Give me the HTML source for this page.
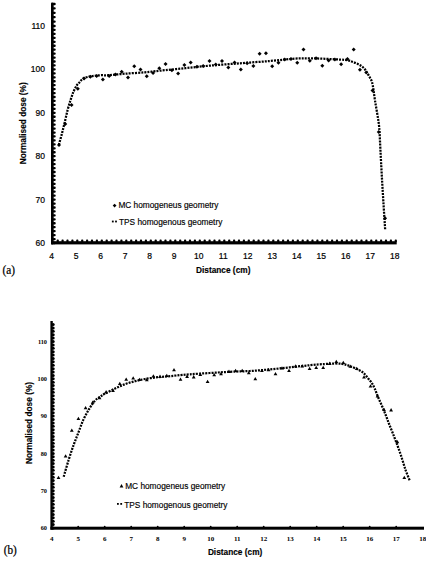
<!DOCTYPE html>
<html><head><meta charset="utf-8"><style>
html,body{margin:0;padding:0;background:#fff;}
svg{display:block;}
.ta{font-family:"Liberation Sans",sans-serif;font-size:8.5px;fill:#000;stroke:#000;stroke-width:0.2px;}
.tb{font-family:"Liberation Sans",sans-serif;font-size:8.3px;font-weight:bold;fill:#000;stroke:#000;stroke-width:0.15px;}
.lg{font-family:"Liberation Sans",sans-serif;font-size:8.3px;fill:#000;stroke:#000;stroke-width:0.15px;}
.sb{font-family:"Liberation Serif",serif;font-size:7px;font-weight:bold;fill:#000;}
.lab{font-family:"Liberation Serif",serif;font-size:12.5px;fill:#000;stroke:#000;stroke-width:0.25px;}
</style></head><body>
<svg width="426" height="562" viewBox="0 0 426 562">
<rect width="426" height="562" fill="#fff"/>
<rect x="51" y="2.6" width="2.7" height="241.8" rx="0.8" fill="#000"/>
<rect x="52.8" y="241.85" width="2.9" height="2.3" rx="1" fill="#000"/>
<rect x="52.8" y="237.90" width="2.9" height="2.3" rx="1" fill="#000"/>
<rect x="52.8" y="233.96" width="2.9" height="2.3" rx="1" fill="#000"/>
<rect x="52.8" y="230.01" width="2.9" height="2.3" rx="1" fill="#000"/>
<rect x="52.8" y="226.07" width="2.9" height="2.3" rx="1" fill="#000"/>
<rect x="52.8" y="222.12" width="2.9" height="2.3" rx="1" fill="#000"/>
<rect x="52.8" y="218.18" width="2.9" height="2.3" rx="1" fill="#000"/>
<rect x="52.8" y="214.23" width="2.9" height="2.3" rx="1" fill="#000"/>
<rect x="52.8" y="210.29" width="2.9" height="2.3" rx="1" fill="#000"/>
<rect x="52.8" y="206.34" width="2.9" height="2.3" rx="1" fill="#000"/>
<rect x="52.8" y="202.40" width="2.9" height="2.3" rx="1" fill="#000"/>
<rect x="52.8" y="198.45" width="2.9" height="2.3" rx="1" fill="#000"/>
<rect x="52.8" y="194.50" width="2.9" height="2.3" rx="1" fill="#000"/>
<rect x="52.8" y="190.56" width="2.9" height="2.3" rx="1" fill="#000"/>
<rect x="52.8" y="186.61" width="2.9" height="2.3" rx="1" fill="#000"/>
<rect x="52.8" y="182.67" width="2.9" height="2.3" rx="1" fill="#000"/>
<rect x="52.8" y="178.72" width="2.9" height="2.3" rx="1" fill="#000"/>
<rect x="52.8" y="174.78" width="2.9" height="2.3" rx="1" fill="#000"/>
<rect x="52.8" y="170.83" width="2.9" height="2.3" rx="1" fill="#000"/>
<rect x="52.8" y="166.89" width="2.9" height="2.3" rx="1" fill="#000"/>
<rect x="52.8" y="162.94" width="2.9" height="2.3" rx="1" fill="#000"/>
<rect x="52.8" y="159.00" width="2.9" height="2.3" rx="1" fill="#000"/>
<rect x="52.8" y="155.05" width="2.9" height="2.3" rx="1" fill="#000"/>
<rect x="52.8" y="151.10" width="2.9" height="2.3" rx="1" fill="#000"/>
<rect x="52.8" y="147.16" width="2.9" height="2.3" rx="1" fill="#000"/>
<rect x="52.8" y="143.21" width="2.9" height="2.3" rx="1" fill="#000"/>
<rect x="52.8" y="139.27" width="2.9" height="2.3" rx="1" fill="#000"/>
<rect x="52.8" y="135.32" width="2.9" height="2.3" rx="1" fill="#000"/>
<rect x="52.8" y="131.38" width="2.9" height="2.3" rx="1" fill="#000"/>
<rect x="52.8" y="127.43" width="2.9" height="2.3" rx="1" fill="#000"/>
<rect x="52.8" y="123.49" width="2.9" height="2.3" rx="1" fill="#000"/>
<rect x="52.8" y="119.54" width="2.9" height="2.3" rx="1" fill="#000"/>
<rect x="52.8" y="115.60" width="2.9" height="2.3" rx="1" fill="#000"/>
<rect x="52.8" y="111.65" width="2.9" height="2.3" rx="1" fill="#000"/>
<rect x="52.8" y="107.70" width="2.9" height="2.3" rx="1" fill="#000"/>
<rect x="52.8" y="103.76" width="2.9" height="2.3" rx="1" fill="#000"/>
<rect x="52.8" y="99.81" width="2.9" height="2.3" rx="1" fill="#000"/>
<rect x="52.8" y="95.87" width="2.9" height="2.3" rx="1" fill="#000"/>
<rect x="52.8" y="91.92" width="2.9" height="2.3" rx="1" fill="#000"/>
<rect x="52.8" y="87.98" width="2.9" height="2.3" rx="1" fill="#000"/>
<rect x="52.8" y="84.03" width="2.9" height="2.3" rx="1" fill="#000"/>
<rect x="52.8" y="80.09" width="2.9" height="2.3" rx="1" fill="#000"/>
<rect x="52.8" y="76.14" width="2.9" height="2.3" rx="1" fill="#000"/>
<rect x="52.8" y="72.20" width="2.9" height="2.3" rx="1" fill="#000"/>
<rect x="52.8" y="68.25" width="2.9" height="2.3" rx="1" fill="#000"/>
<rect x="52.8" y="64.30" width="2.9" height="2.3" rx="1" fill="#000"/>
<rect x="52.8" y="60.36" width="2.9" height="2.3" rx="1" fill="#000"/>
<rect x="52.8" y="56.41" width="2.9" height="2.3" rx="1" fill="#000"/>
<rect x="52.8" y="52.47" width="2.9" height="2.3" rx="1" fill="#000"/>
<rect x="52.8" y="48.52" width="2.9" height="2.3" rx="1" fill="#000"/>
<rect x="52.8" y="44.58" width="2.9" height="2.3" rx="1" fill="#000"/>
<rect x="52.8" y="40.63" width="2.9" height="2.3" rx="1" fill="#000"/>
<rect x="52.8" y="36.69" width="2.9" height="2.3" rx="1" fill="#000"/>
<rect x="52.8" y="32.74" width="2.9" height="2.3" rx="1" fill="#000"/>
<rect x="52.8" y="28.80" width="2.9" height="2.3" rx="1" fill="#000"/>
<rect x="52.8" y="24.85" width="2.9" height="2.3" rx="1" fill="#000"/>
<rect x="52.8" y="20.45" width="2.9" height="2.3" rx="1" fill="#000"/>
<rect x="52.8" y="16.05" width="2.9" height="2.3" rx="1" fill="#000"/>
<rect x="52.8" y="11.65" width="2.9" height="2.3" rx="1" fill="#000"/>
<rect x="52.8" y="7.25" width="2.9" height="2.3" rx="1" fill="#000"/>
<rect x="52.8" y="2.85" width="2.9" height="2.3" rx="1" fill="#000"/>
<rect x="51" y="241.2" width="345.7" height="3.2" fill="#000"/>
<rect x="56.60" y="239.6" width="2.2" height="2.6" rx="0.8" fill="#000"/>
<rect x="61.50" y="239.6" width="2.2" height="2.6" rx="0.8" fill="#000"/>
<rect x="66.40" y="239.6" width="2.2" height="2.6" rx="0.8" fill="#000"/>
<rect x="71.30" y="239.6" width="2.2" height="2.6" rx="0.8" fill="#000"/>
<rect x="76.20" y="239.6" width="2.2" height="2.6" rx="0.8" fill="#000"/>
<rect x="81.10" y="239.6" width="2.2" height="2.6" rx="0.8" fill="#000"/>
<rect x="86.00" y="239.6" width="2.2" height="2.6" rx="0.8" fill="#000"/>
<rect x="90.90" y="239.6" width="2.2" height="2.6" rx="0.8" fill="#000"/>
<rect x="95.80" y="239.6" width="2.2" height="2.6" rx="0.8" fill="#000"/>
<rect x="100.70" y="239.6" width="2.2" height="2.6" rx="0.8" fill="#000"/>
<rect x="105.60" y="239.6" width="2.2" height="2.6" rx="0.8" fill="#000"/>
<rect x="110.50" y="239.6" width="2.2" height="2.6" rx="0.8" fill="#000"/>
<rect x="115.40" y="239.6" width="2.2" height="2.6" rx="0.8" fill="#000"/>
<rect x="120.30" y="239.6" width="2.2" height="2.6" rx="0.8" fill="#000"/>
<rect x="125.20" y="239.6" width="2.2" height="2.6" rx="0.8" fill="#000"/>
<rect x="130.10" y="239.6" width="2.2" height="2.6" rx="0.8" fill="#000"/>
<rect x="135.00" y="239.6" width="2.2" height="2.6" rx="0.8" fill="#000"/>
<rect x="139.90" y="239.6" width="2.2" height="2.6" rx="0.8" fill="#000"/>
<rect x="144.80" y="239.6" width="2.2" height="2.6" rx="0.8" fill="#000"/>
<rect x="149.70" y="239.6" width="2.2" height="2.6" rx="0.8" fill="#000"/>
<rect x="154.60" y="239.6" width="2.2" height="2.6" rx="0.8" fill="#000"/>
<rect x="159.50" y="239.6" width="2.2" height="2.6" rx="0.8" fill="#000"/>
<rect x="164.40" y="239.6" width="2.2" height="2.6" rx="0.8" fill="#000"/>
<rect x="169.30" y="239.6" width="2.2" height="2.6" rx="0.8" fill="#000"/>
<rect x="174.20" y="239.6" width="2.2" height="2.6" rx="0.8" fill="#000"/>
<rect x="179.10" y="239.6" width="2.2" height="2.6" rx="0.8" fill="#000"/>
<rect x="184.00" y="239.6" width="2.2" height="2.6" rx="0.8" fill="#000"/>
<rect x="188.90" y="239.6" width="2.2" height="2.6" rx="0.8" fill="#000"/>
<rect x="193.80" y="239.6" width="2.2" height="2.6" rx="0.8" fill="#000"/>
<rect x="198.70" y="239.6" width="2.2" height="2.6" rx="0.8" fill="#000"/>
<rect x="203.60" y="239.6" width="2.2" height="2.6" rx="0.8" fill="#000"/>
<rect x="208.50" y="239.6" width="2.2" height="2.6" rx="0.8" fill="#000"/>
<rect x="213.40" y="239.6" width="2.2" height="2.6" rx="0.8" fill="#000"/>
<rect x="218.30" y="239.6" width="2.2" height="2.6" rx="0.8" fill="#000"/>
<rect x="223.20" y="239.6" width="2.2" height="2.6" rx="0.8" fill="#000"/>
<rect x="228.10" y="239.6" width="2.2" height="2.6" rx="0.8" fill="#000"/>
<rect x="233.00" y="239.6" width="2.2" height="2.6" rx="0.8" fill="#000"/>
<rect x="237.90" y="239.6" width="2.2" height="2.6" rx="0.8" fill="#000"/>
<rect x="242.80" y="239.6" width="2.2" height="2.6" rx="0.8" fill="#000"/>
<rect x="247.70" y="239.6" width="2.2" height="2.6" rx="0.8" fill="#000"/>
<rect x="252.60" y="239.6" width="2.2" height="2.6" rx="0.8" fill="#000"/>
<rect x="257.50" y="239.6" width="2.2" height="2.6" rx="0.8" fill="#000"/>
<rect x="262.40" y="239.6" width="2.2" height="2.6" rx="0.8" fill="#000"/>
<rect x="267.30" y="239.6" width="2.2" height="2.6" rx="0.8" fill="#000"/>
<rect x="272.20" y="239.6" width="2.2" height="2.6" rx="0.8" fill="#000"/>
<rect x="277.10" y="239.6" width="2.2" height="2.6" rx="0.8" fill="#000"/>
<rect x="282.00" y="239.6" width="2.2" height="2.6" rx="0.8" fill="#000"/>
<rect x="286.90" y="239.6" width="2.2" height="2.6" rx="0.8" fill="#000"/>
<rect x="291.80" y="239.6" width="2.2" height="2.6" rx="0.8" fill="#000"/>
<rect x="296.70" y="239.6" width="2.2" height="2.6" rx="0.8" fill="#000"/>
<rect x="301.60" y="239.6" width="2.2" height="2.6" rx="0.8" fill="#000"/>
<rect x="306.50" y="239.6" width="2.2" height="2.6" rx="0.8" fill="#000"/>
<rect x="311.40" y="239.6" width="2.2" height="2.6" rx="0.8" fill="#000"/>
<rect x="316.30" y="239.6" width="2.2" height="2.6" rx="0.8" fill="#000"/>
<rect x="321.20" y="239.6" width="2.2" height="2.6" rx="0.8" fill="#000"/>
<rect x="326.10" y="239.6" width="2.2" height="2.6" rx="0.8" fill="#000"/>
<rect x="331.00" y="239.6" width="2.2" height="2.6" rx="0.8" fill="#000"/>
<rect x="335.90" y="239.6" width="2.2" height="2.6" rx="0.8" fill="#000"/>
<rect x="340.80" y="239.6" width="2.2" height="2.6" rx="0.8" fill="#000"/>
<rect x="345.70" y="239.6" width="2.2" height="2.6" rx="0.8" fill="#000"/>
<rect x="350.60" y="239.6" width="2.2" height="2.6" rx="0.8" fill="#000"/>
<rect x="355.50" y="239.6" width="2.2" height="2.6" rx="0.8" fill="#000"/>
<rect x="360.40" y="239.6" width="2.2" height="2.6" rx="0.8" fill="#000"/>
<rect x="365.30" y="239.6" width="2.2" height="2.6" rx="0.8" fill="#000"/>
<rect x="370.20" y="239.6" width="2.2" height="2.6" rx="0.8" fill="#000"/>
<rect x="375.10" y="239.6" width="2.2" height="2.6" rx="0.8" fill="#000"/>
<rect x="380.00" y="239.6" width="2.2" height="2.6" rx="0.8" fill="#000"/>
<rect x="384.90" y="239.6" width="2.2" height="2.6" rx="0.8" fill="#000"/>
<rect x="389.80" y="239.6" width="2.2" height="2.6" rx="0.8" fill="#000"/>
<rect x="394.70" y="239.6" width="2.2" height="2.6" rx="0.8" fill="#000"/>
<text x="45" y="245.9" class="ta" text-anchor="end">60</text>
<text x="45" y="202.5" class="ta" text-anchor="end">70</text>
<text x="45" y="159.1" class="ta" text-anchor="end">80</text>
<text x="45" y="115.7" class="ta" text-anchor="end">90</text>
<text x="45" y="72.3" class="ta" text-anchor="end">100</text>
<text x="45" y="28.9" class="ta" text-anchor="end">110</text>
<text x="51.7" y="258.9" class="ta" text-anchor="middle">4</text>
<text x="76.2" y="258.9" class="ta" text-anchor="middle">5</text>
<text x="100.7" y="258.9" class="ta" text-anchor="middle">6</text>
<text x="125.2" y="258.9" class="ta" text-anchor="middle">7</text>
<text x="149.7" y="258.9" class="ta" text-anchor="middle">8</text>
<text x="174.2" y="258.9" class="ta" text-anchor="middle">9</text>
<text x="198.7" y="258.9" class="ta" text-anchor="middle">10</text>
<text x="223.2" y="258.9" class="ta" text-anchor="middle">11</text>
<text x="247.7" y="258.9" class="ta" text-anchor="middle">12</text>
<text x="272.2" y="258.9" class="ta" text-anchor="middle">13</text>
<text x="296.7" y="258.9" class="ta" text-anchor="middle">14</text>
<text x="321.2" y="258.9" class="ta" text-anchor="middle">15</text>
<text x="345.7" y="258.9" class="ta" text-anchor="middle">16</text>
<text x="370.2" y="258.9" class="ta" text-anchor="middle">17</text>
<text x="394.7" y="258.9" class="ta" text-anchor="middle">18</text>
<text x="223.2" y="273.1" class="tb" text-anchor="middle">Distance (cm)</text>
<text transform="translate(25.6,123.3) rotate(-90)" class="tb" text-anchor="middle">Normalised dose (%)</text>
<text transform="translate(2.6,274.3) scale(0.9,1)" class="lab">(a)</text>
<path d="M58.8,144.9 C59.30,143.10 60.82,137.85 61.80,134.10 C62.78,130.35 63.72,126.47 64.70,122.40 C65.68,118.33 66.72,113.45 67.70,109.70 C68.68,105.95 69.65,102.85 70.60,99.90 C71.55,96.95 72.40,94.38 73.40,92.00 C74.40,89.62 75.60,87.20 76.60,85.60 C77.60,84.00 78.32,83.57 79.40,82.40 C80.48,81.23 81.53,79.55 83.10,78.60 C84.67,77.65 86.92,77.17 88.80,76.70 C90.68,76.23 92.37,76.05 94.40,75.80 C96.43,75.55 98.65,75.30 101.00,75.20 C103.35,75.10 104.50,75.45 108.50,75.20 C112.50,74.95 118.92,74.18 125.00,73.70 C131.08,73.22 139.17,72.80 145.00,72.30 C150.83,71.80 153.33,71.38 160.00,70.70 C166.67,70.02 176.67,69.05 185.00,68.20 C193.33,67.35 200.83,66.42 210.00,65.60 C219.17,64.78 230.00,64.07 240.00,63.30 C250.00,62.53 260.83,61.78 270.00,61.00 C279.17,60.22 288.33,59.05 295.00,58.60 C301.67,58.15 305.00,58.27 310.00,58.30 C315.00,58.33 320.00,58.58 325.00,58.80 C330.00,59.02 336.17,59.35 340.00,59.60 C343.83,59.85 345.97,59.95 348.00,60.30 C350.03,60.65 350.70,61.15 352.20,61.70 C353.70,62.25 355.48,62.88 357.00,63.60 C358.52,64.32 360.05,65.13 361.30,66.00 C362.55,66.87 363.55,67.72 364.50,68.80 C365.45,69.88 366.13,71.10 367.00,72.50 C367.87,73.90 368.87,75.62 369.70,77.20 C370.53,78.78 371.37,79.87 372.00,82.00 C372.63,84.13 373.00,86.90 373.50,90.00 C374.00,93.10 374.37,96.58 375.00,100.60 C375.63,104.62 376.60,109.60 377.30,114.10 C378.00,118.60 378.68,121.68 379.20,127.60 C379.72,133.52 379.97,141.60 380.40,149.60 C380.83,157.60 381.30,166.82 381.80,175.60 C382.30,184.38 382.83,193.20 383.40,202.30 C383.97,211.40 384.90,225.55 385.20,230.20" fill="none" stroke="#000" stroke-width="2.25" stroke-dasharray="2.0 1.1"/>
<path d="M59.00,143.00 L61.00,145.00 L59.00,147.00 L57.00,145.00Z" fill="#000"/>
<path d="M65.27,122.10 L67.27,124.10 L65.27,126.10 L63.27,124.10Z" fill="#000"/>
<path d="M71.54,102.90 L73.54,104.90 L71.54,106.90 L69.54,104.90Z" fill="#000"/>
<path d="M77.81,86.80 L79.81,88.80 L77.81,90.80 L75.81,88.80Z" fill="#000"/>
<path d="M84.08,76.60 L86.08,78.60 L84.08,80.60 L82.08,78.60Z" fill="#000"/>
<path d="M90.35,74.70 L92.35,76.70 L90.35,78.70 L88.35,76.70Z" fill="#000"/>
<path d="M96.62,74.00 L98.62,76.00 L96.62,78.00 L94.62,76.00Z" fill="#000"/>
<path d="M102.89,77.60 L104.89,79.60 L102.89,81.60 L100.89,79.60Z" fill="#000"/>
<path d="M109.16,74.00 L111.16,76.00 L109.16,78.00 L107.16,76.00Z" fill="#000"/>
<path d="M115.43,72.60 L117.43,74.60 L115.43,76.60 L113.43,74.60Z" fill="#000"/>
<path d="M121.70,69.70 L123.70,71.70 L121.70,73.70 L119.70,71.70Z" fill="#000"/>
<path d="M127.97,75.40 L129.97,77.40 L127.97,79.40 L125.97,77.40Z" fill="#000"/>
<path d="M134.24,64.30 L136.24,66.30 L134.24,68.30 L132.24,66.30Z" fill="#000"/>
<path d="M140.51,67.40 L142.51,69.40 L140.51,71.40 L138.51,69.40Z" fill="#000"/>
<path d="M146.78,74.30 L148.78,76.30 L146.78,78.30 L144.78,76.30Z" fill="#000"/>
<path d="M153.05,71.10 L155.05,73.10 L153.05,75.10 L151.05,73.10Z" fill="#000"/>
<path d="M159.32,66.20 L161.32,68.20 L159.32,70.20 L157.32,68.20Z" fill="#000"/>
<path d="M165.59,62.00 L167.59,64.00 L165.59,66.00 L163.59,64.00Z" fill="#000"/>
<path d="M171.86,68.30 L173.86,70.30 L171.86,72.30 L169.86,70.30Z" fill="#000"/>
<path d="M178.13,71.50 L180.13,73.50 L178.13,75.50 L176.13,73.50Z" fill="#000"/>
<path d="M184.40,63.00 L186.40,65.00 L184.40,67.00 L182.40,65.00Z" fill="#000"/>
<path d="M190.67,60.50 L192.67,62.50 L190.67,64.50 L188.67,62.50Z" fill="#000"/>
<path d="M196.94,64.80 L198.94,66.80 L196.94,68.80 L194.94,66.80Z" fill="#000"/>
<path d="M203.21,64.10 L205.21,66.10 L203.21,68.10 L201.21,66.10Z" fill="#000"/>
<path d="M209.48,59.10 L211.48,61.10 L209.48,63.10 L207.48,61.10Z" fill="#000"/>
<path d="M215.75,62.60 L217.75,64.60 L215.75,66.60 L213.75,64.60Z" fill="#000"/>
<path d="M222.02,59.10 L224.02,61.10 L222.02,63.10 L220.02,61.10Z" fill="#000"/>
<path d="M228.29,65.50 L230.29,67.50 L228.29,69.50 L226.29,67.50Z" fill="#000"/>
<path d="M234.56,60.50 L236.56,62.50 L234.56,64.50 L232.56,62.50Z" fill="#000"/>
<path d="M240.83,67.60 L242.83,69.60 L240.83,71.60 L238.83,69.60Z" fill="#000"/>
<path d="M247.10,61.20 L249.10,63.20 L247.10,65.20 L245.10,63.20Z" fill="#000"/>
<path d="M253.37,64.10 L255.37,66.10 L253.37,68.10 L251.37,66.10Z" fill="#000"/>
<path d="M259.64,51.70 L261.64,53.70 L259.64,55.70 L257.64,53.70Z" fill="#000"/>
<path d="M265.91,51.30 L267.91,53.30 L265.91,55.30 L263.91,53.30Z" fill="#000"/>
<path d="M272.18,64.30 L274.18,66.30 L272.18,68.30 L270.18,66.30Z" fill="#000"/>
<path d="M278.45,60.70 L280.45,62.70 L278.45,64.70 L276.45,62.70Z" fill="#000"/>
<path d="M284.72,57.60 L286.72,59.60 L284.72,61.60 L282.72,59.60Z" fill="#000"/>
<path d="M290.99,57.00 L292.99,59.00 L290.99,61.00 L288.99,59.00Z" fill="#000"/>
<path d="M297.26,60.70 L299.26,62.70 L297.26,64.70 L295.26,62.70Z" fill="#000"/>
<path d="M303.53,47.50 L305.53,49.50 L303.53,51.50 L301.53,49.50Z" fill="#000"/>
<path d="M309.80,58.80 L311.80,60.80 L309.80,62.80 L307.80,60.80Z" fill="#000"/>
<path d="M316.07,56.20 L318.07,58.20 L316.07,60.20 L314.07,58.20Z" fill="#000"/>
<path d="M322.34,63.70 L324.34,65.70 L322.34,67.70 L320.34,65.70Z" fill="#000"/>
<path d="M328.61,58.40 L330.61,60.40 L328.61,62.40 L326.61,60.40Z" fill="#000"/>
<path d="M334.88,57.60 L336.88,59.60 L334.88,61.60 L332.88,59.60Z" fill="#000"/>
<path d="M341.15,62.30 L343.15,64.30 L341.15,66.30 L339.15,64.30Z" fill="#000"/>
<path d="M347.42,57.00 L349.42,59.00 L347.42,61.00 L345.42,59.00Z" fill="#000"/>
<path d="M353.69,47.50 L355.69,49.50 L353.69,51.50 L351.69,49.50Z" fill="#000"/>
<path d="M359.96,67.70 L361.96,69.70 L359.96,71.70 L357.96,69.70Z" fill="#000"/>
<path d="M366.23,70.50 L368.23,72.50 L366.23,74.50 L364.23,72.50Z" fill="#000"/>
<path d="M372.50,88.50 L374.50,90.50 L372.50,92.50 L370.50,90.50Z" fill="#000"/>
<path d="M378.77,129.90 L380.77,131.90 L378.77,133.90 L376.77,131.90Z" fill="#000"/>
<path d="M385.04,216.30 L387.04,218.30 L385.04,220.30 L383.04,218.30Z" fill="#000"/>
<path d="M114.6,203.7 L116.5,205.6 L114.6,207.5 L112.7,205.6Z" fill="#000"/>
<text x="118.4" y="208.2" class="lg">MC homogeneus geometry</text>
<rect x="111.9" y="220.6" width="1.8" height="1.8" fill="#000"/><rect x="115.1" y="220.6" width="1.8" height="1.8" fill="#000"/>
<text x="119" y="224.9" class="lg">TPS homogenous geometry</text>
<rect x="50.4" y="321" width="2.4" height="208.7" fill="#000"/>
<circle cx="53.2" cy="528.00" r="1.5" fill="#000"/>
<circle cx="53.2" cy="524.61" r="1.5" fill="#000"/>
<circle cx="53.2" cy="521.22" r="1.5" fill="#000"/>
<circle cx="53.2" cy="517.83" r="1.5" fill="#000"/>
<circle cx="53.2" cy="514.44" r="1.5" fill="#000"/>
<circle cx="53.2" cy="511.05" r="1.5" fill="#000"/>
<circle cx="53.2" cy="507.65" r="1.5" fill="#000"/>
<circle cx="53.2" cy="504.26" r="1.5" fill="#000"/>
<circle cx="53.2" cy="500.87" r="1.5" fill="#000"/>
<circle cx="53.2" cy="497.48" r="1.5" fill="#000"/>
<circle cx="53.2" cy="494.09" r="1.5" fill="#000"/>
<circle cx="53.2" cy="490.70" r="1.5" fill="#000"/>
<circle cx="53.2" cy="487.31" r="1.5" fill="#000"/>
<circle cx="53.2" cy="483.92" r="1.5" fill="#000"/>
<circle cx="53.2" cy="480.53" r="1.5" fill="#000"/>
<circle cx="53.2" cy="477.14" r="1.5" fill="#000"/>
<circle cx="53.2" cy="473.75" r="1.5" fill="#000"/>
<circle cx="53.2" cy="470.35" r="1.5" fill="#000"/>
<circle cx="53.2" cy="466.96" r="1.5" fill="#000"/>
<circle cx="53.2" cy="463.57" r="1.5" fill="#000"/>
<circle cx="53.2" cy="460.18" r="1.5" fill="#000"/>
<circle cx="53.2" cy="456.79" r="1.5" fill="#000"/>
<circle cx="53.2" cy="453.40" r="1.5" fill="#000"/>
<circle cx="53.2" cy="450.01" r="1.5" fill="#000"/>
<circle cx="53.2" cy="446.62" r="1.5" fill="#000"/>
<circle cx="53.2" cy="443.23" r="1.5" fill="#000"/>
<circle cx="53.2" cy="439.84" r="1.5" fill="#000"/>
<circle cx="53.2" cy="436.45" r="1.5" fill="#000"/>
<circle cx="53.2" cy="433.05" r="1.5" fill="#000"/>
<circle cx="53.2" cy="429.66" r="1.5" fill="#000"/>
<circle cx="53.2" cy="426.27" r="1.5" fill="#000"/>
<circle cx="53.2" cy="422.88" r="1.5" fill="#000"/>
<circle cx="53.2" cy="419.49" r="1.5" fill="#000"/>
<circle cx="53.2" cy="416.10" r="1.5" fill="#000"/>
<circle cx="53.2" cy="412.71" r="1.5" fill="#000"/>
<circle cx="53.2" cy="409.32" r="1.5" fill="#000"/>
<circle cx="53.2" cy="405.93" r="1.5" fill="#000"/>
<circle cx="53.2" cy="402.54" r="1.5" fill="#000"/>
<circle cx="53.2" cy="399.15" r="1.5" fill="#000"/>
<circle cx="53.2" cy="395.75" r="1.5" fill="#000"/>
<circle cx="53.2" cy="392.36" r="1.5" fill="#000"/>
<circle cx="53.2" cy="388.97" r="1.5" fill="#000"/>
<circle cx="53.2" cy="385.58" r="1.5" fill="#000"/>
<circle cx="53.2" cy="382.19" r="1.5" fill="#000"/>
<circle cx="53.2" cy="378.80" r="1.5" fill="#000"/>
<circle cx="53.2" cy="375.41" r="1.5" fill="#000"/>
<circle cx="53.2" cy="372.02" r="1.5" fill="#000"/>
<circle cx="53.2" cy="368.63" r="1.5" fill="#000"/>
<circle cx="53.2" cy="365.24" r="1.5" fill="#000"/>
<circle cx="53.2" cy="361.85" r="1.5" fill="#000"/>
<circle cx="53.2" cy="358.45" r="1.5" fill="#000"/>
<circle cx="53.2" cy="355.06" r="1.5" fill="#000"/>
<circle cx="53.2" cy="351.67" r="1.5" fill="#000"/>
<circle cx="53.2" cy="348.28" r="1.5" fill="#000"/>
<circle cx="53.2" cy="344.89" r="1.5" fill="#000"/>
<circle cx="53.2" cy="341.50" r="1.5" fill="#000"/>
<circle cx="53.2" cy="338.11" r="1.5" fill="#000"/>
<circle cx="53.2" cy="334.72" r="1.5" fill="#000"/>
<circle cx="53.2" cy="331.33" r="1.5" fill="#000"/>
<circle cx="53.2" cy="327.94" r="1.5" fill="#000"/>
<circle cx="53.2" cy="324.55" r="1.5" fill="#000"/>
<rect x="50.4" y="526.7" width="373.6" height="3" fill="#000"/>
<circle cx="78.20" cy="526.7" r="0.9" fill="#000"/>
<circle cx="104.70" cy="526.7" r="0.9" fill="#000"/>
<circle cx="131.20" cy="526.7" r="0.9" fill="#000"/>
<circle cx="157.70" cy="526.7" r="0.9" fill="#000"/>
<circle cx="184.20" cy="526.7" r="0.9" fill="#000"/>
<circle cx="210.70" cy="526.7" r="0.9" fill="#000"/>
<circle cx="237.20" cy="526.7" r="0.9" fill="#000"/>
<circle cx="263.70" cy="526.7" r="0.9" fill="#000"/>
<circle cx="290.20" cy="526.7" r="0.9" fill="#000"/>
<circle cx="316.70" cy="526.7" r="0.9" fill="#000"/>
<circle cx="343.20" cy="526.7" r="0.9" fill="#000"/>
<circle cx="369.70" cy="526.7" r="0.9" fill="#000"/>
<circle cx="396.20" cy="526.7" r="0.9" fill="#000"/>
<text transform="translate(47,530.2) scale(0.9,1)" class="sb" text-anchor="end">60</text>
<text transform="translate(47,492.9) scale(0.9,1)" class="sb" text-anchor="end">70</text>
<text transform="translate(47,455.6) scale(0.9,1)" class="sb" text-anchor="end">80</text>
<text transform="translate(47,418.3) scale(0.9,1)" class="sb" text-anchor="end">90</text>
<text transform="translate(47,381.0) scale(0.9,1)" class="sb" text-anchor="end">100</text>
<text transform="translate(47,343.7) scale(0.9,1)" class="sb" text-anchor="end">110</text>
<text x="51.7" y="540.7" class="sb" text-anchor="middle">4</text>
<text x="78.2" y="540.7" class="sb" text-anchor="middle">5</text>
<text x="104.7" y="540.7" class="sb" text-anchor="middle">6</text>
<text x="131.2" y="540.7" class="sb" text-anchor="middle">7</text>
<text x="157.7" y="540.7" class="sb" text-anchor="middle">8</text>
<text x="184.2" y="540.7" class="sb" text-anchor="middle">9</text>
<text x="210.7" y="540.7" class="sb" text-anchor="middle">10</text>
<text x="237.2" y="540.7" class="sb" text-anchor="middle">11</text>
<text x="263.7" y="540.7" class="sb" text-anchor="middle">12</text>
<text x="290.2" y="540.7" class="sb" text-anchor="middle">13</text>
<text x="316.7" y="540.7" class="sb" text-anchor="middle">14</text>
<text x="343.2" y="540.7" class="sb" text-anchor="middle">15</text>
<text x="369.7" y="540.7" class="sb" text-anchor="middle">16</text>
<text x="396.2" y="540.7" class="sb" text-anchor="middle">17</text>
<text x="422.7" y="540.7" class="sb" text-anchor="middle">18</text>
<text x="235.1" y="554.6" class="tb" text-anchor="middle">Distance (cm)</text>
<text transform="translate(31.8,423) rotate(-90)" class="tb" text-anchor="middle">Normalised dose (%)</text>
<text transform="translate(3.7,553.8) scale(0.9,1)" class="lab">(b)</text>
<path d="M63.7,476.7 C64.52,473.92 66.97,465.23 68.60,460.00 C70.23,454.77 71.87,449.87 73.50,445.30 C75.13,440.73 76.77,436.83 78.40,432.60 C80.03,428.37 81.52,423.82 83.30,419.90 C85.08,415.98 87.15,412.32 89.10,409.10 C91.05,405.88 93.18,402.65 95.00,400.60 C96.82,398.55 98.33,397.97 100.00,396.80 C101.67,395.63 102.50,394.97 105.00,393.60 C107.50,392.23 111.67,390.17 115.00,388.60 C118.33,387.03 121.67,385.43 125.00,384.20 C128.33,382.97 131.67,382.07 135.00,381.20 C138.33,380.33 141.25,379.67 145.00,379.00 C148.75,378.33 153.77,377.63 157.50,377.20 C161.23,376.77 161.98,376.88 167.40,376.40 C172.82,375.92 179.57,375.07 190.00,374.30 C200.43,373.53 220.00,372.35 230.00,371.80 C240.00,371.25 243.33,371.40 250.00,371.00 C256.67,370.60 263.33,370.02 270.00,369.40 C276.67,368.78 283.33,368.00 290.00,367.30 C296.67,366.60 304.17,365.75 310.00,365.20 C315.83,364.65 320.83,364.28 325.00,364.00 C329.17,363.72 332.17,363.52 335.00,363.50 C337.83,363.48 340.07,363.67 342.00,363.90 C343.93,364.13 345.22,364.50 346.60,364.90 C347.98,365.30 348.90,365.77 350.30,366.30 C351.70,366.83 353.27,367.32 355.00,368.10 C356.73,368.88 359.13,370.05 360.70,371.00 C362.27,371.95 363.15,372.55 364.40,373.80 C365.65,375.05 366.95,376.93 368.20,378.50 C369.45,380.07 370.80,381.48 371.90,383.20 C373.00,384.92 373.77,386.47 374.80,388.80 C375.83,391.13 376.92,394.38 378.10,397.20 C379.28,400.02 380.63,402.73 381.90,405.70 C383.17,408.67 384.53,412.03 385.70,415.00 C386.87,417.97 387.77,420.58 388.90,423.50 C390.03,426.42 391.18,429.13 392.50,432.50 C393.82,435.87 395.35,439.77 396.80,443.70 C398.25,447.63 399.75,451.75 401.20,456.10 C402.65,460.45 404.05,465.65 405.50,469.80 C406.95,473.95 409.17,479.13 409.90,481.00" fill="none" stroke="#000" stroke-width="2.25" stroke-dasharray="2.0 1.1"/>
<path d="M58.50,475.70 L60.40,479.00 L56.60,479.00Z" fill="#000"/>
<path d="M65.60,454.30 L67.50,457.60 L63.70,457.60Z" fill="#000"/>
<path d="M71.80,428.40 L73.70,431.70 L69.90,431.70Z" fill="#000"/>
<path d="M78.40,416.70 L80.30,420.00 L76.50,420.00Z" fill="#000"/>
<path d="M85.60,406.00 L87.50,409.30 L83.70,409.30Z" fill="#000"/>
<path d="M92.70,400.50 L94.60,403.80 L90.80,403.80Z" fill="#000"/>
<path d="M99.50,395.90 L101.40,399.20 L97.60,399.20Z" fill="#000"/>
<path d="M106.10,390.10 L108.00,393.40 L104.20,393.40Z" fill="#000"/>
<path d="M113.00,388.70 L114.90,392.00 L111.10,392.00Z" fill="#000"/>
<path d="M119.80,381.70 L121.70,385.00 L117.90,385.00Z" fill="#000"/>
<path d="M126.20,377.50 L128.10,380.80 L124.30,380.80Z" fill="#000"/>
<path d="M133.20,376.20 L135.10,379.50 L131.30,379.50Z" fill="#000"/>
<path d="M139.40,377.80 L141.30,381.10 L137.50,381.10Z" fill="#000"/>
<path d="M146.80,377.90 L148.70,381.20 L144.90,381.20Z" fill="#000"/>
<path d="M153.40,374.30 L155.30,377.60 L151.50,377.60Z" fill="#000"/>
<path d="M160.00,374.60 L161.90,377.90 L158.10,377.90Z" fill="#000"/>
<path d="M166.80,373.80 L168.70,377.10 L164.90,377.10Z" fill="#000"/>
<path d="M174.00,368.00 L175.90,371.30 L172.10,371.30Z" fill="#000"/>
<path d="M180.50,377.50 L182.40,380.80 L178.60,380.80Z" fill="#000"/>
<path d="M187.10,374.60 L189.00,377.90 L185.20,377.90Z" fill="#000"/>
<path d="M193.70,375.10 L195.60,378.40 L191.80,378.40Z" fill="#000"/>
<path d="M200.30,372.60 L202.20,375.90 L198.40,375.90Z" fill="#000"/>
<path d="M207.60,379.80 L209.50,383.10 L205.70,383.10Z" fill="#000"/>
<path d="M214.20,372.90 L216.10,376.20 L212.30,376.20Z" fill="#000"/>
<path d="M221.00,372.00 L222.90,375.30 L219.10,375.30Z" fill="#000"/>
<path d="M229.00,369.60 L230.90,372.90 L227.10,372.90Z" fill="#000"/>
<path d="M235.60,368.70 L237.50,372.00 L233.70,372.00Z" fill="#000"/>
<path d="M242.20,368.70 L244.10,372.00 L240.30,372.00Z" fill="#000"/>
<path d="M248.80,370.90 L250.70,374.20 L246.90,374.20Z" fill="#000"/>
<path d="M255.30,377.00 L257.20,380.30 L253.40,380.30Z" fill="#000"/>
<path d="M261.90,368.70 L263.80,372.00 L260.00,372.00Z" fill="#000"/>
<path d="M268.50,367.90 L270.40,371.20 L266.60,371.20Z" fill="#000"/>
<path d="M275.50,372.00 L277.40,375.30 L273.60,375.30Z" fill="#000"/>
<path d="M282.00,366.20 L283.90,369.50 L280.10,369.50Z" fill="#000"/>
<path d="M289.00,368.70 L290.90,372.00 L287.10,372.00Z" fill="#000"/>
<path d="M295.60,364.20 L297.50,367.50 L293.70,367.50Z" fill="#000"/>
<path d="M302.20,364.20 L304.10,367.50 L300.30,367.50Z" fill="#000"/>
<path d="M309.60,366.70 L311.50,370.00 L307.70,370.00Z" fill="#000"/>
<path d="M316.20,365.80 L318.10,369.10 L314.30,369.10Z" fill="#000"/>
<path d="M323.20,365.80 L325.10,369.10 L321.30,369.10Z" fill="#000"/>
<path d="M329.70,361.60 L331.60,364.90 L327.80,364.90Z" fill="#000"/>
<path d="M336.30,359.80 L338.20,363.10 L334.40,363.10Z" fill="#000"/>
<path d="M343.30,360.70 L345.20,364.00 L341.40,364.00Z" fill="#000"/>
<path d="M350.30,364.40 L352.20,367.70 L348.40,367.70Z" fill="#000"/>
<path d="M356.80,366.80 L358.70,370.10 L354.90,370.10Z" fill="#000"/>
<path d="M364.00,375.30 L365.90,378.60 L362.10,378.60Z" fill="#000"/>
<path d="M370.50,384.20 L372.40,387.50 L368.60,387.50Z" fill="#000"/>
<path d="M377.50,394.20 L379.40,397.50 L375.60,397.50Z" fill="#000"/>
<path d="M384.00,407.70 L385.90,411.00 L382.10,411.00Z" fill="#000"/>
<path d="M391.10,408.10 L393.00,411.40 L389.20,411.40Z" fill="#000"/>
<path d="M397.40,440.00 L399.30,443.30 L395.50,443.30Z" fill="#000"/>
<path d="M404.30,475.70 L406.20,479.00 L402.40,479.00Z" fill="#000"/>
<path d="M121.5,484.1 L123.4,487.6 L119.6,487.6Z" fill="#000"/>
<text x="125.2" y="489.1" class="lg">MC homogeneus geometry</text>
<rect x="117" y="503" width="1.8" height="1.8" fill="#000"/><rect x="120.3" y="503" width="1.8" height="1.8" fill="#000"/>
<text x="124.2" y="507.6" class="lg">TPS homogenous geometry</text>
</svg></body></html>
